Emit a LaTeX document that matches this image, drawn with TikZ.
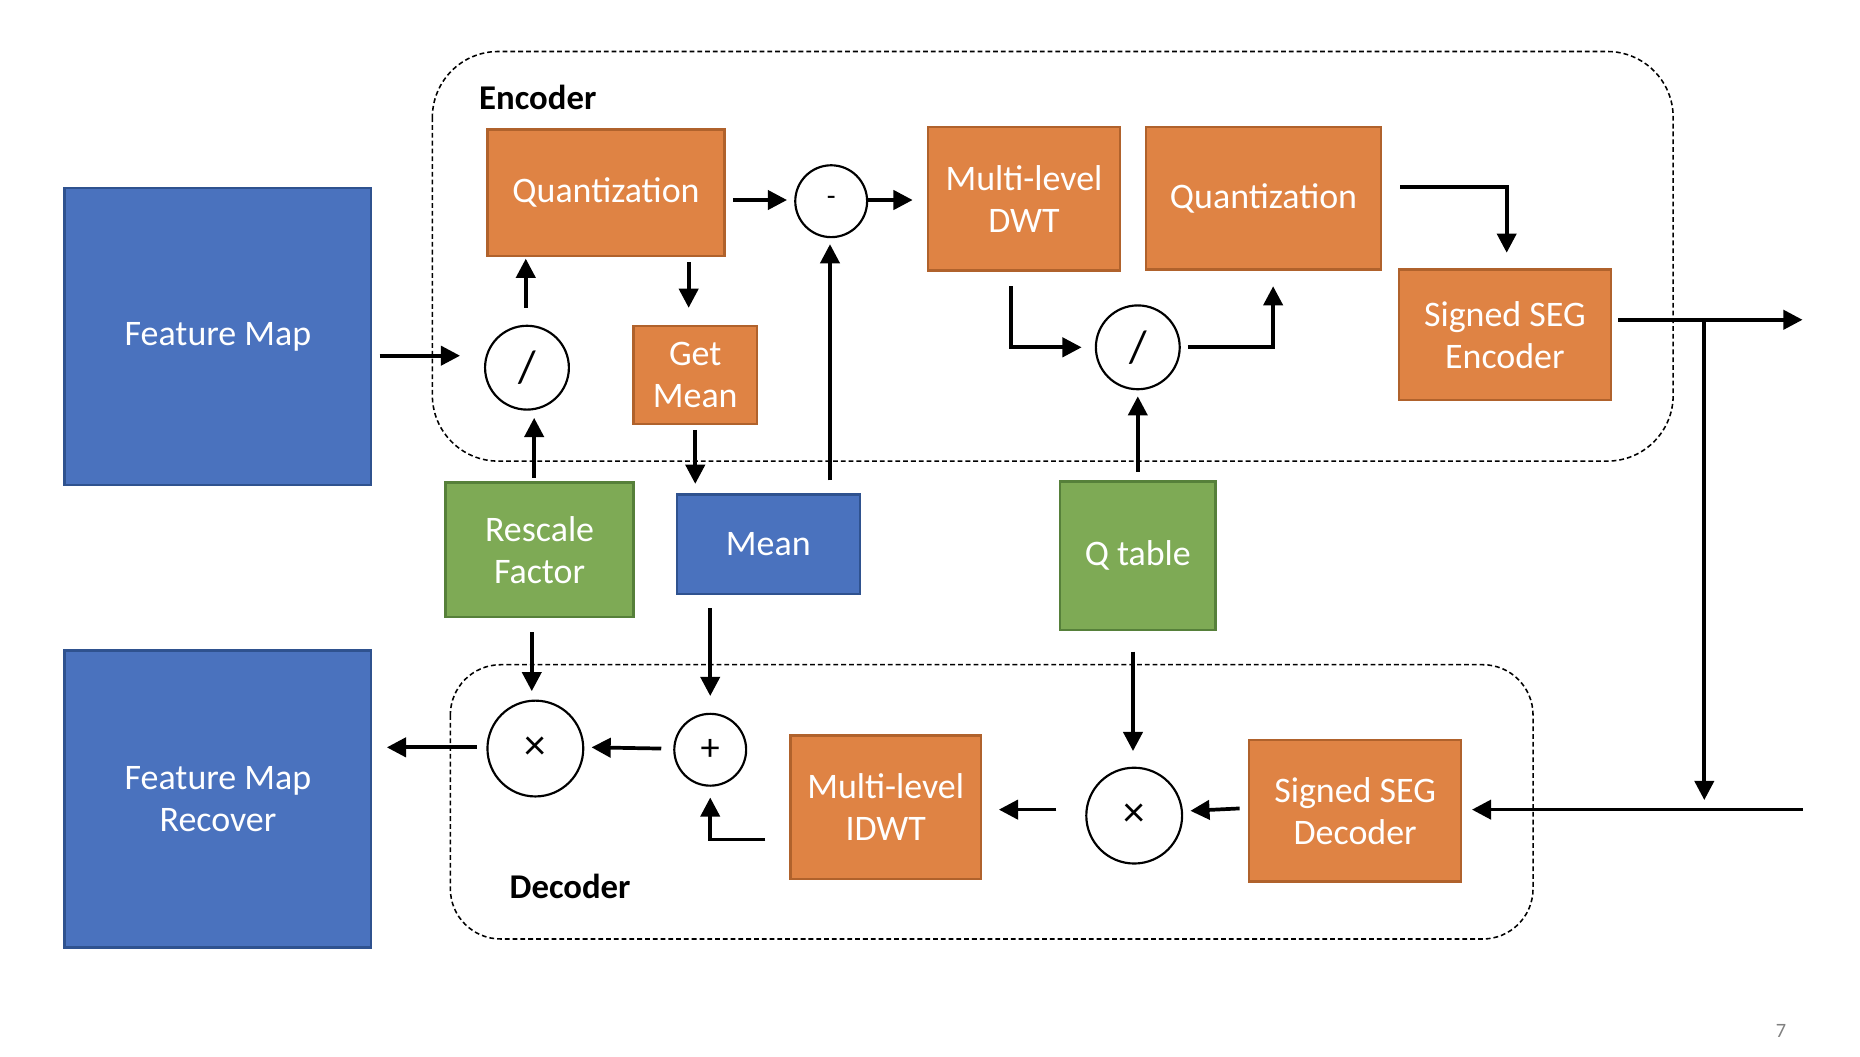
\documentclass[tikz,border=0pt]{standalone}
\usepackage{fontspec}
\setmainfont{Carlito}
\usetikzlibrary{arrows.meta,calc}
\definecolor{orf}{HTML}{DF8344}
\definecolor{ord}{HTML}{B0622C}
\definecolor{blf}{HTML}{4A72BE}
\definecolor{bld}{HTML}{2F528F}
\definecolor{grf}{HTML}{7EAA55}
\definecolor{grd}{HTML}{56803A}
\tikzset{
  box/.style={draw, line width=2pt, text=white, align=center, inner sep=0pt,
    font=\fontsize{30}{35}\selectfont},
  obox/.style={box, fill=orf, draw=ord},
  bbox/.style={box, fill=blf, draw=bld},
  gbox/.style={box, fill=grf, draw=grd},
  op/.style={circle, draw, line width=1.8pt, fill=white, inner sep=0pt},
  arr/.style={line width=3.1pt, -{Triangle[length=16pt,width=16pt]}},
  region/.style={draw, dashed, dash pattern=on 4pt off 2.5pt, line width=1.3pt},
  ttl/.style={font=\fontsize{29}{34}\selectfont\bfseries}
}
\begin{document}
\begin{tikzpicture}[x=1pt,y=-1pt]
\useasboundingbox (0,0) rectangle (1553,882);
% regions
\draw[region, rounded corners=55pt] (361,43) rectangle (1397,385);
\draw[region, rounded corners=42pt] (376,555) rectangle (1280,784);
\node[ttl] (enc) at (449,81) {Encoder};
\node[ttl] (dec) at (476,740) {Decoder};
% blocks
\node[bbox, minimum width=256pt, minimum height=248pt] (fm) at (182,281) {Feature Map};
\node[bbox, minimum width=256pt, minimum height=248pt] (fmr) at (182,667) {Feature Map\\Recover};
\node[obox, minimum width=198pt, minimum height=106pt] (q1) at (506,161) {Quantization};
\node[obox, minimum width=160pt, minimum height=120pt] (dwt) at (855,166) {Multi-level\\DWT};
\node[obox, minimum width=196pt, minimum height=119pt] (q2) at (1055,165.5) {Quantization};
\node[obox, minimum width=177pt, minimum height=109pt] (segenc) at (1256.5,279.5) {Signed SEG\\Encoder};
\node[obox, minimum width=103pt, minimum height=82pt] (gm) at (580.5,313) {Get\\Mean};
\node[gbox, minimum width=157pt, minimum height=112pt] (rf) at (450.5,459) {Rescale\\Factor};
\node[bbox, minimum width=153pt, minimum height=83pt] (mean) at (641.5,454.5) {Mean};
\node[gbox, minimum width=130pt, minimum height=124pt] (qt) at (950,464) {Q table};
\node[obox, minimum width=159pt, minimum height=120pt] (idwt) at (739.5,674) {Multi-level\\IDWT};
\node[obox, minimum width=177pt, minimum height=118pt] (segdec) at (1131.5,677) {Signed SEG\\Decoder};
% operators
\node[op, minimum size=60pt, font=\fontsize{24}{26}\selectfont] (minus) at (694,168) {-};
\node[op, minimum size=70pt, font=\fontsize{38}{40}\selectfont] (div1) at (440,307) {/};
\node[op, minimum size=70pt, font=\fontsize{38}{40}\selectfont] (div2) at (950,290) {/};
\node[op, minimum size=80pt, font=\fontsize{36}{38}\selectfont] (t1) at (447,625) {×};
\node[op, minimum size=60pt, font=\fontsize{32}{34}\selectfont] (plus) at (593,626) {+};
\node[op, minimum size=80pt, font=\fontsize{36}{38}\selectfont] (t2) at (947,681) {×};
% free ends
\coordinate (out) at (1505,267);
\coordinate (inr) at (1505,676);
\coordinate (br) at (1423,267);
% encoder connectors
\draw[arr] ($(fm.east)+(6,16)$) -- ($(div1.west)+(-20,-10)$);
\draw[arr] ($(div1.north)+(-1,-14)$) -- ($(div1.north |- q1.south)+(-1,1)$);
\draw[arr] ($(gm.north |- q1.south)+(-5.5,4)$) -- ($(gm.north)+(-5.5,-14)$);
\draw[arr] ($(gm.south)+(0,4)$) -- ($(gm.south |- mean.north)+(0,-8)$);
\draw[arr] ($(mean.north)+(51.5,-11)$) -- ($(minus.south)+(-1,5)$);
\draw[arr] ($(q1.east)+(6,6)$) -- ($(minus.west)+(-6,-1)$);
\draw[arr] ($(minus.east)+(0,-1)$) -- ($(minus.east -| dwt.west)+(-12,-1)$);
\draw[arr] ($(dwt.south)+(-11,12)$) |- ($(div2.west)+(-11,0)$);
\draw[arr] ($(div2.east)+(6,0)$) -| ($(q2.south)+(8,13)$);
\draw[arr] ($(q2.east)+(15,-9.5)$) -| ($(segenc.north)+(1.5,-13)$);
\draw[arr] ($(qt.north)+(0,-7)$) -- ($(div2.south)+(0,5)$);
\draw[arr] ($(rf.north)+(-4.5,-3)$) -- ($(div1.south)+(6,6)$);
\draw[arr] ($(segenc.east)+(5,-12.5)$) -- (out);
\draw[arr] (br) -- ($(br)+(0,401)$);
\draw[arr] (inr) -- ($(segdec.east)+(8,-1)$);
% decoder connectors
\draw[arr] ($(rf.south)+(-6.5,12)$) -- ($(t1.north)+(-3,-7)$);
\draw[arr] ($(mean.south)+(-48.5,11)$) -- ($(plus.north)+(0,-14)$);
\draw[arr] ($(qt.south)+(-4,17)$) -- ($(t2.north)+(-1,-13)$);
\draw[arr] ($(segdec.west)+(-7,-2)$) -- ($(t2.east)+(6,-4)$);
\draw[arr] ($(t2.west)+(-24,-5)$) -- ($(idwt.east)+(14,2)$);
\draw[arr] ($(idwt.west)+(-20,27)$) -| ($(plus.south)+(0,9)$);
\draw[arr] ($(plus.west)+(-10,-1)$) -- ($(t1.east)+(6,-1)$);
\draw[arr] ($(t1.west)+(-8,-1)$) -- ($(t1.west -| fmr.east)+(12,-1)$);
% page number
\node[text=gray, font=\fontsize{17}{20}\selectfont] (pg) at (1487,861) {7};
\end{tikzpicture}
\end{document}
